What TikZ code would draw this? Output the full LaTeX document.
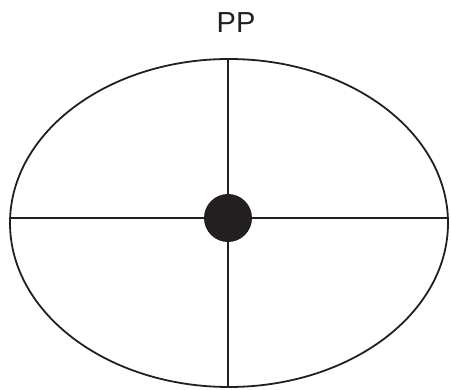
\documentclass[tikz,border=0pt]{standalone}
\usepackage{fontspec}
\setmainfont{Liberation Sans}
\begin{document}
\begin{tikzpicture}[x=1pt,y=-1pt,
  rim/.style={line width=1.8pt,draw={rgb,255:red,35;green,31;blue,32}},
  spoke/.style={line width=2.4pt,draw={rgb,255:red,35;green,31;blue,32}},
  hubdot/.style={circle,fill={rgb,255:red,35;green,31;blue,32},inner sep=0pt,minimum size=48pt}]
\useasboundingbox (0,0) rectangle (451,390);
\draw[rim] (229,223) ellipse [x radius=219, y radius=164];
\coordinate (L) at (10.1,218);
\coordinate (R) at (447.9,218);
\coordinate (T) at (228,59);
\coordinate (B) at (228,387);
\node[hubdot] (hub) at (228,218) {};
\draw[spoke,line width=2pt] (L) -- (hub);
\draw[spoke,line width=2pt] (hub) -- (R);
\draw[spoke] (T) -- (hub);
\draw[spoke] (hub) -- (B);
\node[font=\fontsize{29}{32}\selectfont,text={rgb,255:red,35;green,31;blue,32}] (title) at (236,23) {PP};
\end{tikzpicture}
\end{document}
